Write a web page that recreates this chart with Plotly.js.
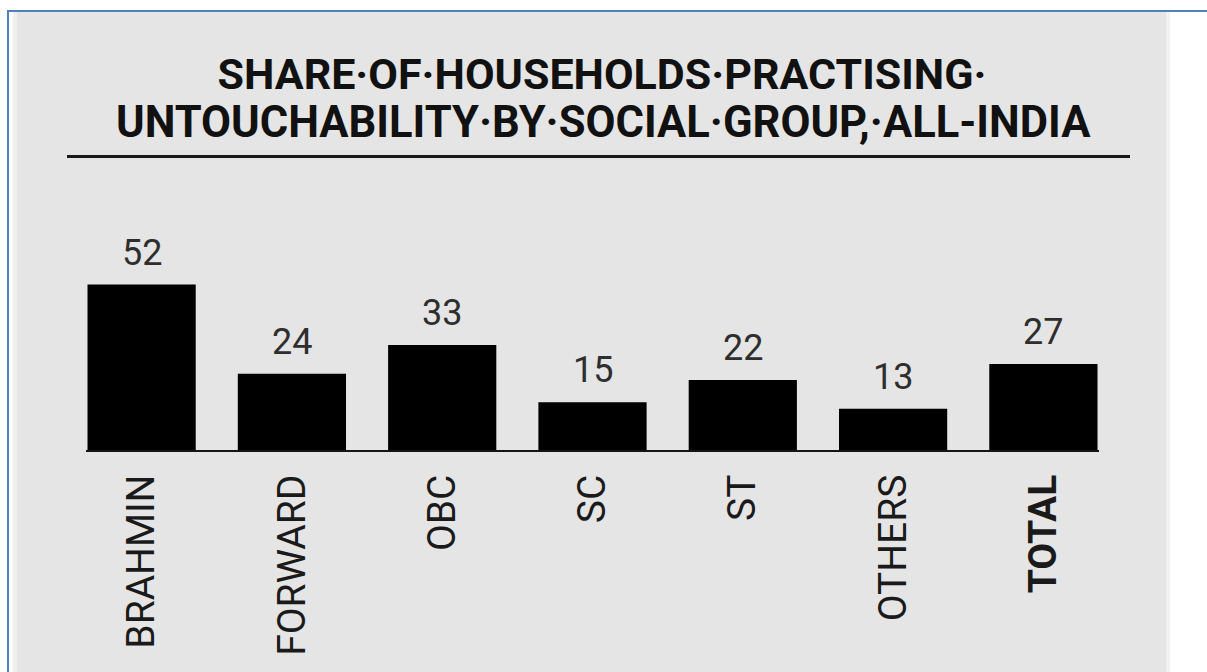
<!DOCTYPE html>
<html>
<head>
<meta charset="utf-8">
<script src="https://cdn.plot.ly/plotly-3.0.1.min.js"></script>
<style>
  html, body { margin: 0; padding: 0; background: #ffffff; }
  #chart { width: 1207px; height: 672px; }
</style>
</head>
<body>
<div id="chart"></div>
<script>
// ---- data ----
const categories = ["BRAHMIN", "FORWARD", "OBC", "SC", "ST", "OTHERS", "TOTAL"];
const tickLabels = ["BRAHMIN", "FORWARD", "OBC", "SC", "ST", "OTHERS", "<b>TOTAL</b>"];
const shares = [52, 24, 33, 15, 22, 13, 27];
const titleLine1 = "SHARE·OF·HOUSEHOLDS·PRACTISING·";
const titleLine2 = "UNTOUCHABILITY·BY·SOCIAL·GROUP,·ALL-INDIA";

// ---- layout geometry (pixels) ----
const W = 1207, Hh = 672;
const mL = 86, mR = 108, mT = 261, mB = 222;
const plotW = W - mL - mR, plotH = Hh - mT - mB;
const px = x => (x - mL) / plotW;          // page pixel x -> paper x
const py = y => (Hh - mB - y) / plotH;     // page pixel y -> paper y

const FONT = "Roboto, 'Liberation Sans', sans-serif";
const GRAY = "#e5e5e5";
const BLUE = "#4f81bd";

const trace = {
  type: "bar",
  x: categories,
  y: shares,
  marker: { color: "#000000", line: { width: 0 } },
  hoverinfo: "skip",
  showlegend: false
};

const valueAnnotations = categories.map((c, i) => ({
  x: c, y: shares[i], xref: "x", yref: "y",
  text: String(shares[i]),
  showarrow: false,
  xanchor: "center", yanchor: "bottom",
  yshift: 9,
  font: { family: FONT, size: 36, color: "#2e2e2e" }
}));

const shapes = [
  // gray panel
  { type: "rect", xref: "paper", yref: "paper", layer: "below",
    x0: px(10), x1: px(1168), y0: py(700), y1: py(11),
    fillcolor: GRAY, line: { width: 0 } },
  // soft inner edges
  { type: "rect", xref: "paper", yref: "paper", layer: "below",
    x0: px(9), x1: px(13), y0: py(700), y1: py(11),
    fillcolor: "#fbfbfb", line: { width: 0 } },
  { type: "rect", xref: "paper", yref: "paper", layer: "below",
    x0: px(13), x1: px(17), y0: py(700), y1: py(11),
    fillcolor: "#efefef", line: { width: 0 } },
  { type: "rect", xref: "paper", yref: "paper", layer: "below",
    x0: px(1166), x1: px(1170), y0: py(700), y1: py(11),
    fillcolor: "#f1f1f1", line: { width: 0 } },
  // blue frame
  { type: "line", xref: "paper", yref: "paper", layer: "above",
    x0: px(8), x1: px(8), y0: py(11), y1: py(700),
    line: { color: BLUE, width: 2 } },
  { type: "line", xref: "paper", yref: "paper", layer: "above",
    x0: px(7), x1: px(1210), y0: py(11), y1: py(11),
    line: { color: BLUE, width: 2 } },
  // title rule
  { type: "line", xref: "paper", yref: "paper", layer: "above",
    x0: px(67), x1: px(1130), y0: py(156.5), y1: py(156.5),
    line: { color: "#1a1a1a", width: 3 } }
];

const layout = {
  width: W, height: Hh,
  margin: { l: mL, r: mR, t: mT, b: mB, pad: 0, autoexpand: false },
  paper_bgcolor: "#ffffff",
  plot_bgcolor: "rgba(0,0,0,0)",
  title: {
    text: titleLine1,
    font: { family: FONT, size: 43, color: "#111111", weight: "bold" },
    xref: "paper", x: px(602), xanchor: "center",
    yref: "container", y: 1 - 74 / Hh, yanchor: "middle"
  },
  bargap: 0.28,
  showlegend: false,
  hovermode: false,
  xaxis: {
    type: "category",
    range: [-0.37, 6.37],
    tickvals: categories,
    ticktext: tickLabels,
    tickangle: -90,
    ticks: "",
    ticklabelstandoff: 7,
    tickfont: { family: FONT, size: 39, color: "#1a1a1a" },
    showline: true, linecolor: "#151515", linewidth: 2,
    showgrid: false, zeroline: false, fixedrange: true
  },
  yaxis: {
    range: [0, 59.4],
    visible: false,
    showgrid: false, zeroline: false, fixedrange: true
  },
  shapes: shapes,
  annotations: [
    ...valueAnnotations,
    { xref: "paper", yref: "paper", x: px(603), y: py(122),
      xanchor: "center", yanchor: "middle", showarrow: false,
      text: titleLine2,
      font: { family: FONT, size: 43.5, color: "#111111", weight: "bold" } }
  ]
};

Plotly.newPlot("chart", [trace], layout, { staticPlot: true, displayModeBar: false });
</script>
</body>
</html>
